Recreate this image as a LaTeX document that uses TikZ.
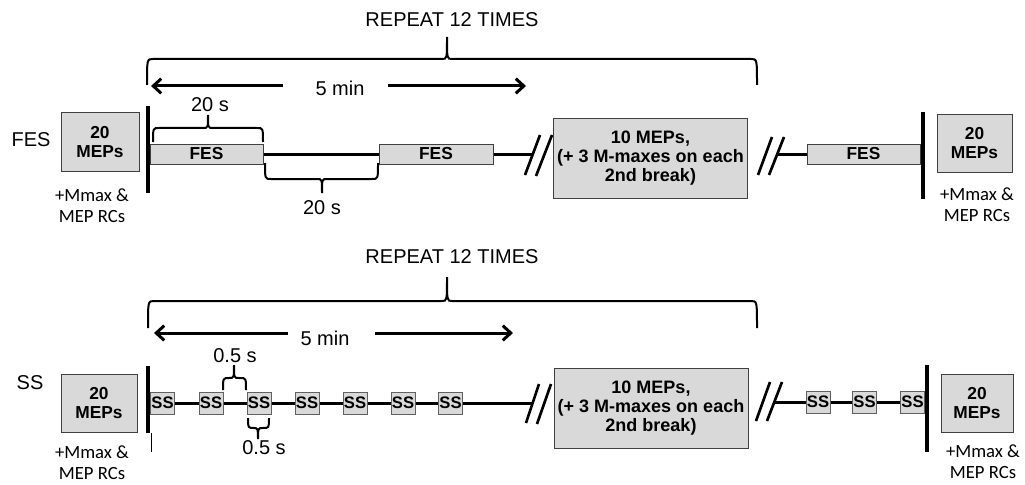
\documentclass[tikz,border=0pt]{standalone}
\usepackage{fontspec}
\setmainfont{Liberation Sans}
\newfontfamily\calfont{Carlito}
\usetikzlibrary{arrows.meta}
\definecolor{boxfill}{HTML}{D9D9D9}
\definecolor{bord}{HTML}{404040}
\definecolor{ssbord}{HTML}{606060}
\definecolor{thin}{HTML}{BBBBBB}
\newcommand{\tbrace}[6]{% x1,x2,xm,yH,yEnd,yTip
  \draw[brc] (#1,#5) .. controls (#1,#4) .. ({#1+6},#4) -- ({#3-5},#4)
    .. controls (#3,#4) .. (#3,#6) .. controls (#3,#4) .. ({#3+5},#4)
    -- ({#2-6},#4) .. controls (#2,#4) .. (#2,#5);}
\tikzset{
  lbl/.style={font=\fontsize{15}{18}\selectfont, inner sep=0pt},
  mep/.style={draw=bord, fill=boxfill, line width=0.75pt, inner sep=0pt, align=center,
    font=\bfseries\fontsize{13}{14.25}\selectfont},
  bigbox/.style={draw=bord, fill=boxfill, line width=0.75pt, inner sep=0pt, align=center,
    font=\bfseries\fontsize{13.5}{14.25}\selectfont, minimum width=146pt, minimum height=60.5pt},
  fesbar/.style={draw=bord, fill=boxfill, line width=0.75pt, inner sep=0pt,
    font=\bfseries\fontsize{13}{14}\selectfont, minimum height=15pt},
  ssbox/.style={draw=ssbord, fill=boxfill, line width=0.75pt, inner sep=0pt,
    font=\bfseries\fontsize{12.5}{14}\selectfont, minimum width=18pt, minimum height=16.5pt},
  rc/.style={font=\calfont\fontsize{14}{16}\selectfont, align=center, inner sep=0pt},
  tl/.style={line width=2.25pt},
  vbar/.style={line width=3pt},
  slash/.style={line width=2pt},
  brc/.style={line width=1.5pt},
  arr/.style={line width=2.25pt, -{Straight Barb[length=6pt,width=11pt,line width=2.25pt]}}
}
\begin{document}
\begin{tikzpicture}[x=0.75pt,y=-0.75pt]
\useasboundingbox (0,0) rectangle (1025,485);

% ================= TOP (FES) =================
\node[lbl] (rep1) at (452,20) {REPEAT 12 TIMES};
\tbrace{147}{757}{447}{59}{85}{37}
\node[lbl] (min1) at (340,88) {5 min};
\coordinate (a1s) at (283,86); \coordinate (a1e) at (151,86);
\coordinate (a2s) at (388,86); \coordinate (a2e) at (526,86);
\draw[arr] (a1s) -- (a1e);
\draw[arr] (a2s) -- (a2e);

\node[lbl] (feslbl) at (31,140) {FES};
\node[mep, minimum width=58.5pt, minimum height=43.5pt] (mepL1) at (100,142) {20\\MEPs};
\node[rc] (rcL1) at (92,206) {+Mmax \&\\MEP RCs};

\coordinate (vb1t) at (148,106); \coordinate (vb1b) at (148,193);
\draw[vbar] (vb1t) -- (vb1b);

\node[fesbar, minimum width=84.75pt] (fes1) at (206.5,154) {FES};
\node[fesbar, minimum width=85.5pt] (fes2) at (436,154) {FES};
\coordinate (sl1) at (533,154);
\draw[tl] (fes1.east) -- (fes2.west);
\draw[tl] (fes2.east) -- (sl1);
\draw[slash] (525,175) -- (540,135);
\draw[slash] (536,176) -- (552,135);

\node[bigbox] (big1) at (650.5,158.5) {10 MEPs,\\(+ 3 M-maxes on each\\2nd break)};

\draw[slash] (758,175) -- (772,137);
\draw[slash] (769,175) -- (784,137);
\coordinate (sl2) at (777,154);
\node[fesbar, minimum width=84.75pt] (fes3) at (863.5,154) {FES};
\draw[tl] (sl2) -- (fes3.west);

\coordinate (vb2t) at (923,112); \coordinate (vb2b) at (923,199);
\draw[vbar] (vb2t) -- (vb2b);
\node[mep, minimum width=56.25pt, minimum height=42.75pt] (mepR1) at (974.5,143.5) {20\\MEPs};
\node[rc] (rcR1) at (977,205) {+Mmax \&\\MEP RCs};

% 20 s braces
\tbrace{153}{263}{208}{128}{142}{115}
\node[lbl] (t20a) at (210,105) {20 s};
\tbrace{265}{378}{322}{179}{163}{193}
\node[lbl] (t20b) at (322,208) {20 s};

% ================= BOTTOM (SS) =================
\node[lbl] (rep2) at (452,257) {REPEAT 12 TIMES};
\tbrace{148}{757}{447}{301}{328}{277}
\node[lbl] (min2) at (325,338) {5 min};
\coordinate (b1s) at (288,333); \coordinate (b1e) at (154,333);
\coordinate (b2s) at (375,333); \coordinate (b2e) at (513,333);
\draw[arr] (b1s) -- (b1e);
\draw[arr] (b2s) -- (b2e);

\node[lbl] (sslbl) at (30,383) {SS};
\node[mep, minimum width=57pt, minimum height=43.5pt] (mepL2) at (99,403) {20\\MEPs};
\node[rc] (rcL2) at (92,463) {+Mmax \&\\MEP RCs};

\coordinate (vb3t) at (148,366); \coordinate (vb3b) at (148,433);
\coordinate (thA) at (151,433); \coordinate (thB) at (151,452);
\draw[thin, line width=0.75pt] (thA) -- (thB);
\draw[vbar] (vb3t) -- (vb3b);

\foreach \i/\x in {1/162.5,2/211,3/259,4/307,5/355,6/403,7/450.5}
  \node[ssbox] (ss\i) at (\x,403) {SS};
\foreach \a/\b in {1/2,2/3,3/4,4/5,5/6,6/7}
  \draw[tl] (ss\a.east) -- (ss\b.west);
\coordinate (sl3) at (533,403);
\draw[tl] (ss7.east) -- (sl3);
\draw[slash] (526,423) -- (539,384);
\draw[slash] (537,424) -- (551,384);

\node[bigbox, minimum width=145.5pt, minimum height=60pt] (big2) at (651,408) {10 MEPs,\\(+ 3 M-maxes on each\\2nd break)};

\draw[slash] (756,421) -- (770,382);
\draw[slash] (767,421) -- (782,382);
\coordinate (sl4) at (775,402);
\foreach \i/\x in {1/818,2/864.5,3/912.5}
  \node[ssbox] (ssr\i) at (\x,402) {SS};
\draw[tl] (sl4) -- (ssr1.west);
\draw[tl] (ssr1.east) -- (ssr2.west);
\draw[tl] (ssr2.east) -- (ssr3.west);

\coordinate (vb4t) at (927,365); \coordinate (vb4b) at (927,452);
\draw[vbar] (vb4t) -- (vb4b);
\node[mep, minimum width=54pt, minimum height=43.5pt] (mepR2) at (977,403) {20\\MEPs};
\node[rc] (rcR2) at (983,462) {+Mmax \&\\MEP RCs};

% 0.5 s braces
\tbrace{223}{246}{234}{378}{390}{365}
\node[lbl] (h1) at (235,356) {0.5 s};
\tbrace{248}{269}{258}{428}{418}{439}
\node[lbl] (h2) at (264,448) {0.5 s};
\end{tikzpicture}
\end{document}
